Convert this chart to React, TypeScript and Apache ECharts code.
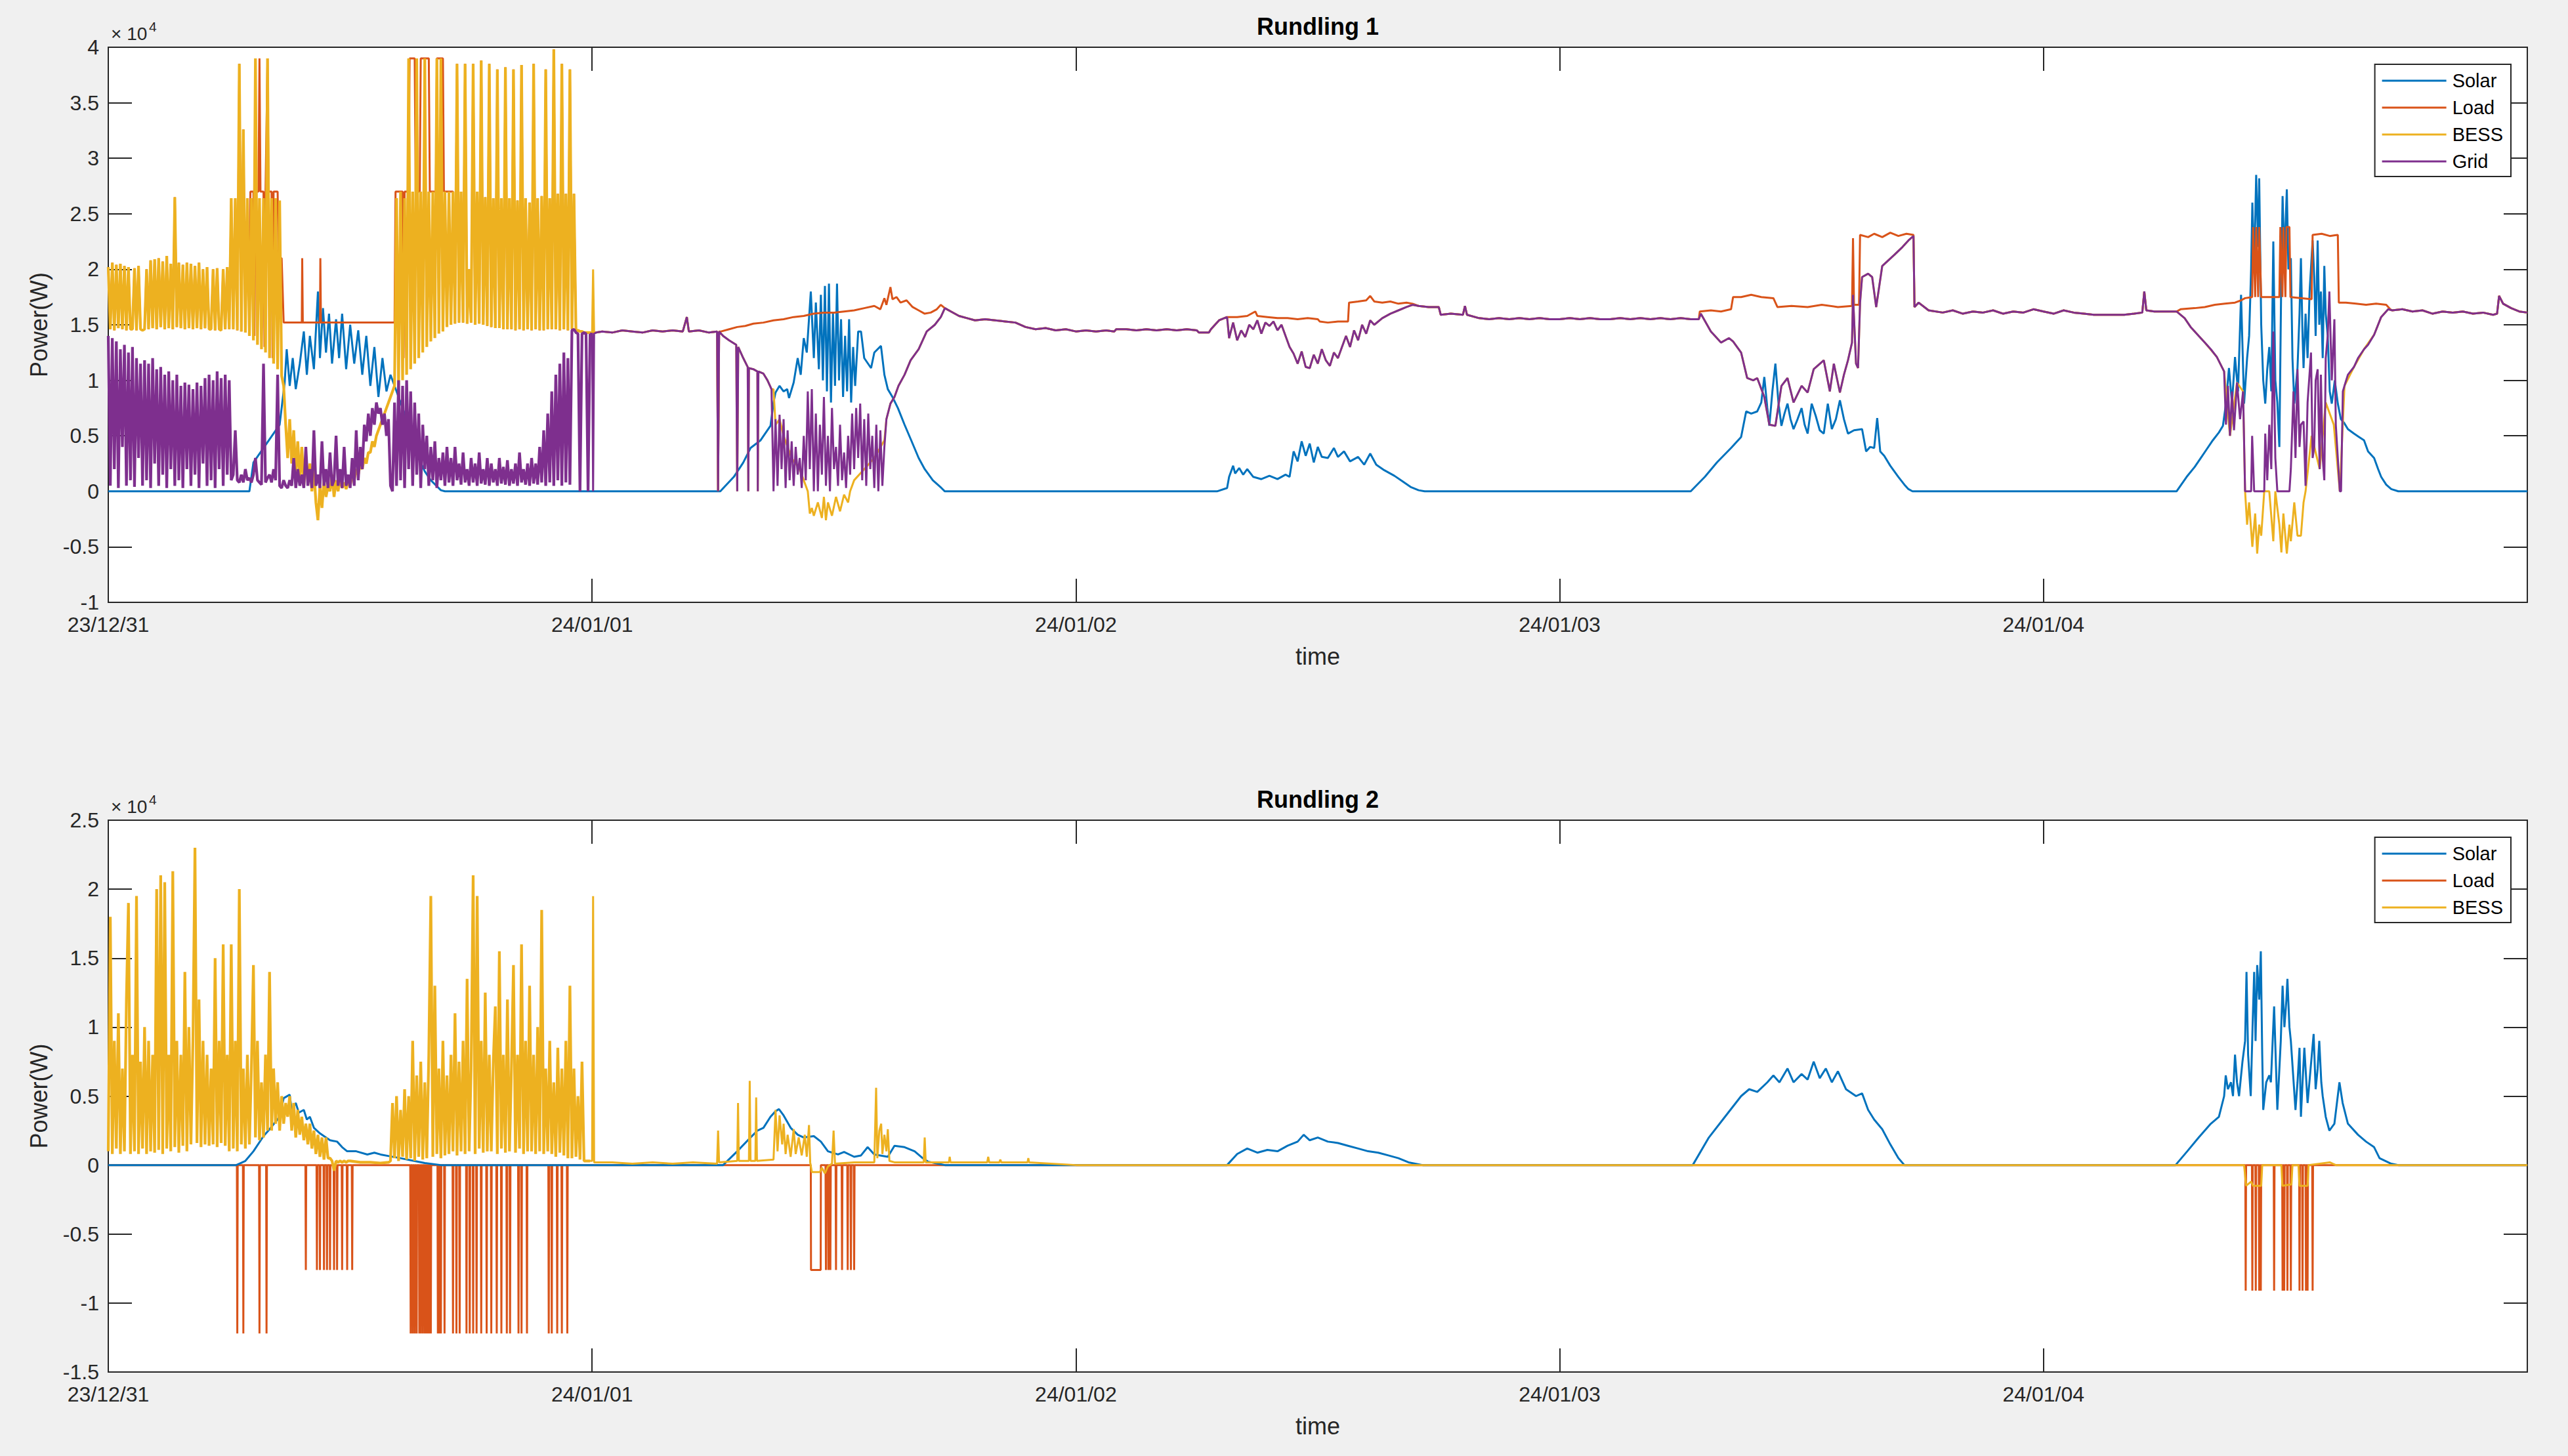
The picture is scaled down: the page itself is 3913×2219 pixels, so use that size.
import * as echarts from "echarts";
import { useEffect, useRef } from "react";

type Pt = [number, number];

// x: hours since 23/12/31 00:00, y: kW (axes print y / 10 with a x10^4 W multiplier)
const xTickLabels = ["23/12/31", "24/01/01", "24/01/02", "24/01/03", "24/01/04"];
const SAMPLE_STEP = 0.1; // hours between rows in the dense logger blocks

const COLORS = { solar: "#0072BD", load: "#D95319", bess: "#EDB120", grid: "#7E2F8E" };
const FONT = '"Liberation Sans", Arial, Helvetica, sans-serif';
const AXIS = "#262626";

// ---------- Rundling 1 ----------
// 6-minute rows from 00:00 to 23:54 on 23/12/31
const r1BessNight0 = [
  20.2, 14.6, 20.6, 14.5, 20.4, 14.7, 20.5, 14.6, 20.3, 14.5,
  20.2, 14.6, 14.6, 20.1, 14.5, 20.3, 14.6, 14.5, 14.6, 20.0,
  14.6, 20.8, 14.7, 20.9, 14.6, 21.0, 14.8, 20.7, 14.6, 21.2,
  14.7, 20.5, 14.6, 26.5, 14.8, 20.6, 14.7, 20.4, 14.6, 20.6,
  14.7, 20.5, 14.6, 20.3, 14.7, 20.6, 14.6, 20.0, 14.7, 20.2,
  14.6, 14.6, 20.0, 14.5, 20.1, 14.6, 14.5, 20.0, 14.6, 20.2,
  14.6, 26.4, 14.6, 26.4, 14.5, 38.5, 14.4, 32.6, 14.3, 26.4,
  14.0, 26.4, 13.6, 39.0, 13.2, 26.4, 12.8, 26.4, 12.5, 39.0,
  12.0, 26.4, 11.5, 26.4, 11.0, 26.2, 10.4, 9.5, 6.0, 3.0,
  6.5, 2.5, 5.5, 1.5, 4.5, 1.0, 4.0, 0.5, 3.0, 1.0,
  2.5, 0.0, 2.0, -1.0, -2.6, 0.5, -1.5, 1.0, -0.5, 0.5,
  0.0, 1.5, -0.5, 1.0, 0.0, 1.2, 0.3, 0.8, 0.2, 1.0,
  0.5, 1.5, 1.0, 2.0, 1.5, 2.5, 2.0, 3.0, 2.5, 3.5,
  3.5, 4.5, 4.0, 5.0, 5.5, 6.0, 6.5, 7.0, 7.5, 8.0,
  8.5, 9.0, 9.5, 26.4, 9.6, 27.0, 10.0, 26.4, 10.5, 39.0,
  11.0, 27.0, 11.5, 39.0, 12.0, 27.0, 12.5, 39.0, 13.0, 27.0,
  13.5, 27.0, 13.8, 39.0, 14.2, 39.0, 14.4, 27.0, 14.8, 27.0,
  15.0, 27.0, 15.1, 38.5, 15.2, 27.0, 15.2, 38.5, 15.1, 20.0,
  15.2, 38.5, 15.0, 27.0, 15.1, 38.8, 15.0, 26.5, 14.9, 38.5,
  14.8, 26.4, 14.7, 38.0, 14.7, 26.4, 14.6, 38.2, 14.6, 26.4,
  14.6, 38.0, 14.5, 26.2, 14.6, 38.4, 14.5, 26.4, 14.6, 26.0,
  14.5, 38.5, 14.6, 26.4, 14.5, 26.6, 14.5, 38.0, 14.6, 26.4,
  14.6, 39.8, 14.6, 26.8, 14.5, 38.5, 14.6, 26.8, 14.5, 38.0,
  14.6, 26.8, 14.4, 14.5, 14.4, 14.4, 14.3, 14.3, 14.3, 14.3,
];

const r1GridNight0 = [
  14.0, 0.5, 13.8, 2.0, 13.5, 0.3, 12.8, 4.0, 13.2, 0.5,
  12.5, 1.0, 13.0, 0.4, 12.0, 3.0, 11.5, 0.5, 11.8, 1.0,
  11.5, 0.3, 12.0, 2.5, 11.0, 0.5, 11.2, 1.5, 10.5, 0.3,
  10.8, 2.0, 10.0, 0.5, 10.5, 1.0, 9.5, 0.3, 9.8, 2.0,
  9.6, 0.5, 9.2, 1.5, 9.8, 0.3, 9.5, 2.5, 10.2, 0.5,
  10.5, 1.0, 10.0, 0.3, 10.8, 2.0, 10.2, 0.5, 10.5, 1.5,
  10.0, 1.0, 1.5, 5.5, 1.0, 0.8, 1.5, 0.8, 2.0, 1.0,
  1.2, 0.8, 1.5, 3.0, 1.0, 0.8, 0.6, 11.5, 0.8, 1.2,
  1.5, 0.8, 2.0, 1.0, 10.5, 0.5, 0.3, 1.0, 0.5, 0.3,
  1.0, 0.5, 3.0, 0.3, 2.0, 0.5, 1.5, 0.3, 4.0, 0.5,
  2.0, 0.3, 5.5, 0.5, 1.5, 0.3, 4.5, 0.5, 2.0, 0.3,
  3.5, 0.5, 1.0, 5.0, 0.5, 2.0, 0.3, 4.0, 0.5, 1.5,
  0.3, 3.0, 0.5, 5.5, 1.0, 4.0, 2.0, 6.0, 4.5, 7.0,
  5.0, 7.5, 6.0, 8.0, 7.0, 7.5, 6.0, 7.0, 5.0, 6.5,
  0.5, 0.0, 8.0, 0.5, 10.0, 1.0, 9.5, 0.3, 10.0, 2.0,
  9.0, 0.5, 8.0, 1.5, 7.0, 0.3, 6.0, 2.0, 5.0, 0.5,
  4.0, 1.0, 4.5, 0.3, 3.0, 1.0, 3.5, 0.5, 4.0, 0.8,
  3.0, 0.5, 4.0, 1.0, 2.5, 0.6, 3.5, 0.8, 2.0, 0.5,
  3.0, 0.8, 2.5, 0.5, 3.5, 0.7, 2.0, 0.6, 3.0, 0.5,
  2.5, 0.8, 2.0, 0.5, 3.0, 0.7, 2.2, 0.6, 2.8, 0.5,
  2.0, 0.7, 2.5, 0.5, 3.5, 0.8, 2.0, 0.6, 2.5, 0.5,
  3.0, 0.7, 2.5, 0.6, 4.0, 0.8, 5.5, 0.5, 7.0, 0.8,
  9.0, 0.5, 10.5, 1.0, 11.5, 0.5, 12.5, 0.8, 12.0, 0.6,
  14.5, 14.6, 14.3, 14.2, 0.0, 14.2, 14.3, 14.2, 0.0, 14.2,
];

// load only departs from the BESS reading between 06:48 and 17:00 on day 0
const r1LoadDay0Own: Pt[] = [
  [6.8, 14.6], [6.85, 20.5], [7.0, 20.5], [7.05, 27.0], [7.2, 27.0], [7.25, 14.0], [7.3, 27.0],
  [7.45, 27.0], [7.5, 39.0], [7.55, 27.0], [7.7, 27.0], [7.75, 13.0], [7.8, 27.0], [7.9, 39.0], [7.95, 27.0],
  [8.1, 27.0], [8.15, 12.0], [8.2, 27.0], [8.4, 27.0], [8.45, 21.0], [8.6, 21.0], [8.7, 15.2], [9.6, 15.2],
  [9.62, 21.0], [9.65, 15.2], [10.5, 15.2], [10.52, 21.0], [10.55, 15.2], [14.2, 15.2], [14.25, 27.0],
  [14.6, 27.0], [14.65, 12.0], [14.7, 27.0], [14.9, 27.0], [14.95, 39.0], [15.2, 39.0], [15.25, 27.0],
  [15.45, 27.0], [15.5, 39.0], [15.9, 39.0], [15.95, 27.0], [16.25, 27.0], [16.3, 39.0], [16.6, 39.0],
  [16.65, 27.0], [17.0, 27.0],
];

const r1SolarDay0: Pt[] = [
  [0, 0], [7.0, 0], [7.2, 2.6], [7.85, 4.3], [8.5, 6.0], [8.75, 9.8], [8.85, 12.8], [9.0, 9.5], [9.15, 12.0],
  [9.3, 9.2], [9.5, 11.5], [9.7, 14.4], [9.85, 10.5], [10.0, 14.0], [10.2, 11.0], [10.4, 18.0], [10.5, 12.0],
  [10.65, 16.5], [10.8, 12.5], [10.95, 16.0], [11.1, 11.5], [11.3, 15.5], [11.45, 12.0], [11.6, 16.0],
  [11.8, 11.0], [12.0, 15.0], [12.2, 11.5], [12.4, 14.5], [12.6, 10.5], [12.8, 14.0], [13.0, 9.5],
  [13.2, 13.0], [13.4, 8.5], [13.6, 12.0], [13.8, 9.0], [14.0, 10.5], [14.2, 9.5], [14.5, 8.0], [14.8, 6.5],
  [15.1, 4.5], [15.4, 3.0], [15.7, 1.8], [16.0, 1.0], [16.5, 0.1], [16.7, 0],
];

const r1GridMidnight: Pt[] = [[24.0, 14.2], [24.05, 0], [24.1, 14.2]];
const r1BessMidnight: Pt[] = [[24.0, 14.3], [24.05, 20.0], [24.1, 14.3]];

// night stretches where load, BESS and grid read the same
const r1Night1: Pt[] = [
  [24.2, 14.3], [24.5, 14.4], [25, 14.3], [25.5, 14.5], [26, 14.4], [26.5, 14.3], [27, 14.5], [27.5, 14.4],
  [28, 14.5], [28.5, 14.4], [28.7, 15.7], [28.8, 14.4], [29.3, 14.5], [29.8, 14.3], [30.2, 14.4],
  [30.25, 0], [30.3, 14.4],
];
const r1GridMorning1: Pt[] = [
  [30.5, 14.0], [30.8, 13.6], [31.15, 13.2], [31.2, 0], [31.25, 13.0], [31.5, 12.0], [31.72, 11.2],
  [31.75, 0], [31.78, 11.1], [32.0, 11.0], [32.2, 10.8], [32.22, 0], [32.25, 10.8], [32.5, 10.6],
  [32.7, 10.0], [32.9, 9.2],
];
const r1GridSolar1: Pt[] = [
  [33.0, 0], [33.1, 6.5], [33.2, 0.5], [33.3, 6.9], [33.4, 2.0], [33.5, 6.5], [33.6, 0.3], [33.7, 5.5],
  [33.8, 1.0], [33.9, 4.5], [34.0, 0.5], [34.1, 4.0], [34.2, 1.5], [34.3, 3.0], [34.4, 0.3], [34.5, 5.0],
  [34.6, 1.0], [34.7, 9.0], [34.8, 2.0], [34.9, 9.2], [35.0, 0], [35.1, 7.0], [35.2, 0], [35.3, 6.0],
  [35.4, 1.5], [35.5, 8.5], [35.6, 0.5], [35.7, 5.0], [35.8, 0], [35.9, 7.5], [36.0, 2.0], [36.1, 4.0],
  [36.2, 0.5], [36.3, 6.0], [36.4, 1.0], [36.5, 3.5], [36.6, 0.3], [36.7, 5.0], [36.8, 1.5], [36.9, 7.0],
  [37.0, 2.0], [37.1, 7.5], [37.2, 3.0], [37.3, 7.9], [37.4, 1.0], [37.5, 6.5], [37.6, 0.5], [37.7, 7.0],
  [37.8, 2.0], [37.9, 5.0], [38.0, 0.3], [38.1, 6.0], [38.2, 0], [38.3, 5.5], [38.4, 0.5], [38.5, 4.0],
];
const r1BessSolar1: Pt[] = [
  [33.0, 9.2], [33.1, 6.0], [33.3, 6.5], [33.5, 5.0], [33.7, 4.0], [33.9, 3.0], [34.1, 2.5], [34.3, 2.0],
  [34.5, 1.0], [34.7, 0.0], [34.8, -2.0], [34.9, -1.5], [35.0, -2.2], [35.2, -1.0], [35.4, -2.4],
  [35.5, -0.5], [35.6, -2.6], [35.7, -1.0], [35.9, -2.2], [36.1, -0.5], [36.3, -1.8], [36.5, -0.3],
  [36.7, -1.0], [36.8, 0], [37.0, 1.0], [37.5, 2.0], [38.0, 3.0], [38.5, 4.6],
];
const r1GridRise1: Pt[] = [
  [38.6, 6.5], [38.8, 7.9], [39.0, 8.5], [39.2, 9.5], [39.5, 10.5], [39.8, 11.8], [40.2, 12.8],
  [40.6, 14.4], [41.0, 15.0], [41.3, 15.7],
];
const r1LoadMorning1: Pt[] = [
  [30.4, 14.4], [30.8, 14.6], [31.2, 14.8], [31.6, 14.9], [32, 15.1], [32.5, 15.2], [33, 15.4], [33.5, 15.5],
  [34, 15.7], [34.5, 15.8], [35, 16.0], [35.5, 16.1], [36, 16.1], [36.5, 16.2], [37, 16.3], [37.5, 16.5],
  [38, 16.7], [38.3, 16.4], [38.5, 17.4], [38.6, 16.8], [38.8, 18.4], [38.9, 17.3], [39.1, 17.5],
  [39.3, 17.0], [39.6, 17.2], [39.9, 16.6], [40.2, 16.3], [40.5, 16.0], [40.8, 16.1], [41.1, 16.4],
  [41.3, 16.8],
];
const r1SolarDay1: Pt[] = [
  [30.36, 0], [31.03, 1.3], [31.5, 2.6], [31.86, 3.9], [32.36, 4.6], [32.85, 5.9], [33.0, 8.0], [33.1, 8.9],
  [33.3, 9.5], [33.5, 9.0], [33.68, 9.2], [33.77, 8.4], [34.0, 9.8], [34.2, 12.0], [34.35, 10.5],
  [34.5, 13.8], [34.65, 12.5], [34.85, 18.0], [35.0, 12.0], [35.1, 17.0], [35.25, 11.0], [35.35, 17.7],
  [35.45, 10.0], [35.55, 18.5], [35.65, 9.0], [35.75, 18.7], [35.85, 8.0], [35.95, 16.0], [36.05, 9.5],
  [36.15, 18.7], [36.25, 10.0], [36.35, 15.5], [36.45, 8.5], [36.55, 14.0], [36.65, 9.0], [36.75, 15.5],
  [36.85, 8.0], [36.95, 13.0], [37.05, 9.5], [37.2, 14.4], [37.34, 14.4], [37.5, 12.0], [37.84, 11.1],
  [38.0, 12.5], [38.33, 13.1], [38.5, 10.5], [38.67, 9.2], [38.9, 8.5], [39.17, 7.5], [39.5, 6.0],
  [39.83, 4.6], [40.2, 3.0], [40.5, 2.0], [40.9, 1.0], [41.33, 0.3], [41.5, 0],
];

const r1Night2: Pt[] = [
  [41.5, 16.5], [41.8, 16.2], [42.2, 15.8], [42.6, 15.6], [43, 15.4], [43.5, 15.5], [44, 15.4], [44.5, 15.3],
  [45, 15.2], [45.5, 14.8], [46, 14.6], [46.5, 14.7], [47, 14.5], [47.5, 14.6], [48, 14.4], [48.5, 14.5],
  [49, 14.4], [49.5, 14.5], [49.9, 14.4], [50, 14.6], [50.5, 14.6], [51, 14.5], [51.5, 14.6], [52, 14.5],
  [52.5, 14.6], [53, 14.5], [53.5, 14.6], [54.0, 14.5], [54.1, 14.3], [54.6, 14.3], [54.7, 14.6],
  [55.1, 15.4], [55.5, 15.7],
];
const r1GridDay2: Pt[] = [
  [55.6, 13.8], [55.8, 15.2], [56.0, 13.6], [56.2, 14.5], [56.4, 13.9], [56.6, 15.0], [56.8, 14.6],
  [57.0, 15.4], [57.2, 14.2], [57.4, 15.2], [57.6, 14.9], [57.8, 15.3], [58.0, 14.5], [58.2, 15.0],
  [58.4, 14.0], [58.6, 13.0], [58.8, 12.4], [59.0, 11.5], [59.2, 12.6], [59.4, 11.2], [59.6, 11.1],
  [59.8, 12.3], [60.0, 11.5], [60.2, 12.8], [60.4, 11.8], [60.6, 11.3], [60.8, 12.5], [61.0, 12.0],
  [61.2, 13.0], [61.4, 14.0], [61.6, 13.0], [61.8, 14.5], [62.0, 13.6], [62.2, 15.0], [62.4, 14.2],
  [62.6, 15.4], [62.8, 15.0], [63.2, 15.6], [63.6, 16.0], [64.0, 16.3], [64.4, 16.6], [64.7, 16.8],
];
const r1LoadDay2: Pt[] = [
  [55.6, 15.7], [56, 15.7], [56.5, 15.8], [56.9, 16.2], [57.0, 15.8], [57.5, 15.7], [58, 15.6], [58.5, 15.6],
  [59, 15.5], [59.5, 15.6], [60.0, 15.5], [60.1, 15.3], [60.5, 15.2], [61, 15.3], [61.5, 15.3],
  [61.55, 17.0], [62, 17.1], [62.4, 17.2], [62.6, 17.6], [62.8, 17.1], [63.2, 17.0], [63.6, 17.1],
  [64.0, 16.9], [64.4, 17.0], [64.7, 16.9],
];
const r1SolarDay2: Pt[] = [
  [55.0, 0], [55.5, 0.3], [55.6, 1.3], [55.8, 2.3], [55.9, 1.6], [56.1, 2.1], [56.3, 1.5], [56.5, 2.0],
  [56.8, 1.3], [57.2, 1.1], [57.6, 1.4], [58.0, 1.1], [58.4, 1.5], [58.6, 1.3], [58.8, 3.6], [59.0, 2.7],
  [59.2, 4.5], [59.4, 3.2], [59.6, 4.3], [59.8, 2.6], [60.0, 4.0], [60.2, 3.1], [60.5, 3.0], [60.8, 3.9],
  [61.0, 3.1], [61.3, 3.6], [61.6, 2.7], [62.0, 3.1], [62.3, 2.4], [62.6, 3.4], [62.9, 2.4], [63.3, 1.9],
  [63.8, 1.4], [64.2, 0.9], [64.6, 0.4], [65.0, 0.1], [65.3, 0],
];

const r1Night3: Pt[] = [
  [65.0, 16.7], [65.5, 16.6], [66.0, 16.6], [66.1, 15.9], [66.6, 16.0], [67.2, 15.9], [67.3, 16.7],
  [67.4, 15.9], [68, 15.6], [68.5, 15.5], [69, 15.6], [69.5, 15.5], [70, 15.6], [70.5, 15.5], [71, 15.6],
  [71.5, 15.5], [72, 15.5], [72.5, 15.6], [73, 15.5], [73.5, 15.6], [74, 15.5], [74.5, 15.5], [75, 15.6],
  [75.5, 15.5], [76, 15.6], [76.5, 15.5], [77, 15.6], [77.5, 15.5], [78, 15.6], [78.5, 15.5], [78.9, 15.5],
];
const r1LoadDay3: Pt[] = [
  [78.95, 16.2], [79.5, 16.3], [80.0, 16.2], [80.5, 16.4], [80.6, 17.5], [81, 17.5], [81.5, 17.7],
  [82, 17.5], [82.6, 17.4], [82.8, 16.6], [83.5, 16.7], [84.3, 16.6], [85, 16.8], [85.8, 16.6],
  [86.5, 16.7], [86.55, 22.8], [86.6, 16.8], [86.85, 16.8], [86.9, 23.1], [87.3, 22.9], [87.6, 23.2],
  [88.0, 22.9], [88.4, 23.3], [88.8, 23.0], [89.2, 23.2], [89.55, 23.1],
];
const r1GridDay3: Pt[] = [
  [79.0, 16.0], [79.5, 14.4], [80, 13.4], [80.4, 13.8], [80.6, 13.5], [81.0, 12.5], [81.3, 10.2],
  [81.6, 10.0], [81.8, 10.2], [82.15, 8.5], [82.4, 6.0], [82.7, 5.9], [83.0, 9.5], [83.3, 10.2],
  [83.6, 8.0], [84.0, 9.5], [84.3, 8.9], [84.6, 11.0], [85.1, 11.8], [85.4, 9.0], [85.6, 11.5],
  [85.9, 8.9], [86.1, 10.5], [86.3, 11.8], [86.5, 13.4], [86.55, 17.7], [86.7, 11.5], [86.8, 11.1],
  [86.9, 17.0], [87.0, 19.3], [87.3, 19.6], [87.5, 19.3], [87.7, 16.6], [88.0, 20.3], [88.3, 20.8],
  [88.6, 21.3], [89.0, 22.0], [89.3, 22.6], [89.55, 23.0],
];
const r1SolarDay3: Pt[] = [
  [78.5, 0], [79.2, 1.3], [79.8, 2.6], [80.5, 3.9], [81.0, 4.9], [81.25, 7.2], [81.5, 7.0], [81.8, 7.2],
  [82.0, 8.0], [82.15, 10.3], [82.3, 7.5], [82.4, 5.9], [82.55, 9.0], [82.7, 11.5], [82.85, 8.0],
  [83.0, 5.9], [83.15, 7.0], [83.3, 7.9], [83.45, 6.5], [83.6, 5.6], [83.8, 6.5], [84.0, 7.5],
  [84.15, 6.0], [84.3, 5.2], [84.5, 7.9], [84.7, 6.8], [84.9, 5.5], [85.1, 5.2], [85.3, 7.9], [85.5, 5.6],
  [85.7, 6.5], [85.9, 8.2], [86.1, 6.5], [86.3, 5.2], [86.6, 5.5], [87.0, 5.6], [87.2, 3.6], [87.4, 4.0],
  [87.6, 3.9], [87.75, 6.6], [87.9, 3.6], [88.1, 3.2], [88.4, 2.3], [88.8, 1.3], [89.1, 0.6],
  [89.3, 0.2], [89.5, 0],
];

const r1Night4: Pt[] = [
  [89.6, 16.6], [89.8, 17.0], [90.3, 16.3], [91, 16.1], [91.5, 16.3], [92, 16.0], [92.5, 16.2], [93, 16.1],
  [93.5, 16.3], [94, 16.0], [94.5, 16.2], [95, 16.1], [95.5, 16.4], [96, 16.2], [96.5, 16.0], [97, 16.3],
  [97.5, 16.1], [98, 16.0], [98.5, 15.9], [99, 15.9], [99.5, 15.9], [100, 15.9], [100.5, 16.0],
  [100.9, 16.1], [101.0, 18.0], [101.1, 16.3], [101.5, 16.2], [102, 16.2], [102.6, 16.2],
];
const r1LoadDay4: Pt[] = [
  [102.8, 16.4], [103.5, 16.5], [104, 16.6], [104.5, 16.8], [105, 16.9], [105.5, 17.0], [105.8, 17.2],
  [106.0, 17.4], [106.35, 17.5], [106.4, 23.8], [106.5, 17.5], [106.55, 23.8], [106.65, 17.5],
  [106.7, 23.8], [106.8, 17.5], [107.7, 17.5], [107.75, 23.8], [107.85, 17.5], [107.9, 23.8],
  [108.0, 17.5], [108.05, 23.8], [108.2, 23.8], [108.25, 17.5], [109.3, 17.3], [109.35, 23.1],
  [109.8, 23.2], [110.2, 23.0], [110.6, 23.1], [110.65, 17.0], [111, 17.0], [111.5, 16.9], [112, 16.8],
  [112.5, 16.9], [113, 16.8], [113.2, 16.4],
];
const r1GridDay4: Pt[] = [
  [103.0, 15.6], [103.3, 14.8], [103.7, 14.0], [104.0, 13.4], [104.3, 12.8], [104.6, 12.1], [104.96, 10.8],
  [105.05, 6.0], [105.15, 9.5], [105.25, 5.0], [105.35, 9.0], [105.45, 5.5], [105.6, 9.8], [105.75, 6.5],
  [105.9, 9.0], [106.0, 0], [106.3, 0], [106.35, 5.0], [106.45, 0], [106.95, 0], [107.0, 5.2],
  [107.1, 1.0], [107.2, 6.0], [107.3, 2.0], [107.4, 14.4], [107.5, 3.0], [107.6, 0], [108.2, 0],
  [108.27, 2.0], [108.4, 9.0], [108.5, 3.0], [108.6, 11.0], [108.7, 4.0], [108.77, 6.0], [108.9, 6.3],
  [109.0, 0.5], [109.1, 8.0], [109.27, 12.5], [109.35, 3.0], [109.43, 4.0], [109.5, 10.0], [109.6, 11.0],
  [109.7, 2.0], [109.76, 10.5], [109.85, 3.0], [109.93, 1.0], [110.0, 12.0], [110.1, 14.0], [110.18, 18.0],
  [110.3, 10.0], [110.43, 15.5], [110.5, 6.0], [110.6, 3.0], [110.7, 0], [110.76, 0], [110.85, 9.0],
  [110.93, 9.5], [111.1, 10.5], [111.4, 11.2], [111.6, 12.0], [111.9, 12.8], [112.1, 13.2], [112.4, 14.1],
  [112.75, 15.7], [113.1, 16.4],
];
const r1BessDay4: Pt[] = [
  [103.0, 15.6], [103.3, 14.8], [104.0, 13.4], [104.6, 12.1], [104.96, 10.8], [105.25, 5.0], [105.6, 9.8],
  [105.9, 9.0], [106.0, 0], [106.1, -3.0], [106.2, -1.0], [106.36, -5.0], [106.5, -2.0], [106.6, -5.6],
  [106.7, -3.0], [106.8, -4.0], [106.95, 0], [107.2, 0], [107.4, -4.5], [107.5, 0], [107.7, -3.0],
  [107.8, -5.5], [107.9, -2.0], [108.07, -5.6], [108.2, -3.0], [108.27, -4.5], [108.44, -1.0],
  [108.6, -4.0], [108.77, -4.0], [108.9, -1.0], [109.0, 0], [109.3, 5.0], [109.7, 2.0], [110.0, 8.0],
  [110.4, 6.0], [110.7, 0], [110.93, 9.5], [111.4, 11.2], [111.9, 12.8], [112.4, 14.1], [112.75, 15.7],
  [113.1, 16.4],
];
const r1SolarDay4: Pt[] = [
  [102.6, 0], [103.1, 1.3], [103.5, 2.2], [103.8, 3.0], [104.1, 3.8], [104.4, 4.6], [104.7, 5.3],
  [104.9, 5.9], [105.05, 7.9], [105.2, 11.1], [105.35, 7.9], [105.5, 12.1], [105.65, 9.0], [105.8, 17.7],
  [105.95, 7.9], [106.1, 12.0], [106.2, 14.0], [106.3, 20.0], [106.36, 26.0], [106.45, 20.0],
  [106.55, 28.5], [106.65, 22.0], [106.7, 28.2], [106.8, 15.0], [106.9, 10.0], [107.0, 7.9], [107.1, 11.0],
  [107.2, 13.0], [107.3, 9.0], [107.4, 22.5], [107.5, 10.0], [107.6, 8.0], [107.7, 4.0], [107.8, 20.0],
  [107.86, 26.6], [107.95, 21.0], [108.07, 27.2], [108.15, 20.0], [108.27, 21.0], [108.35, 12.0],
  [108.44, 7.9], [108.6, 11.1], [108.7, 16.0], [108.77, 21.0], [108.85, 14.0], [108.9, 11.1], [109.0, 16.0],
  [109.1, 12.0], [109.2, 18.0], [109.35, 22.6], [109.43, 19.3], [109.5, 14.0], [109.6, 22.6], [109.68, 15.0],
  [109.76, 18.0], [109.85, 12.0], [109.93, 20.3], [110.0, 16.0], [110.1, 14.0], [110.2, 9.0], [110.3, 7.9],
  [110.45, 10.0], [110.6, 7.9], [110.75, 6.5], [110.9, 6.2], [111.1, 5.6], [111.4, 5.2], [111.65, 4.9],
  [111.9, 4.6], [112.1, 3.6], [112.4, 3.0], [112.6, 2.0], [112.75, 1.3], [113.0, 0.6], [113.25, 0.2],
  [113.6, 0],
];
const r1Night5: Pt[] = [
  [113.3, 16.3], [113.8, 16.4], [114.3, 16.2], [114.8, 16.3], [115.3, 16.0], [115.8, 16.2], [116.3, 16.1],
  [116.8, 16.2], [117.3, 16.0], [117.8, 16.1], [118.3, 15.9], [118.5, 16.0], [118.6, 17.6], [118.8, 16.9],
  [119.2, 16.5], [119.6, 16.2], [120, 16.1],
];

// ---------- Rundling 2 ----------
// 6-minute rows 00:00-11:54 and 14:00-23:54 on 23/12/31
const r2BessNight0 = [
  1.0, 18.0, 0.8, 9.0, 1.2, 11.0, 0.8, 7.0, 1.0, 12.0,
  19.0, 0.8, 8.0, 1.0, 19.5, 0.8, 7.5, 1.2, 10.0, 0.8,
  9.0, 1.0, 8.0, 0.9, 20.0, 1.1, 21.0, 0.8, 20.5, 1.2,
  8.0, 1.0, 21.3, 1.3, 9.0, 0.9, 8.0, 1.4, 14.0, 1.0,
  10.0, 1.5, 9.0, 23.0, 1.6, 12.0, 1.3, 9.0, 1.5, 8.0,
  1.4, 7.0, 1.5, 15.0, 1.3, 9.0, 1.6, 16.0, 1.4, 8.0,
  1.0, 16.0, 1.2, 9.0, 1.0, 20.0, 1.5, 7.0, 1.2, 8.0,
  1.5, 7.0, 14.5, 2.0, 9.0, 1.8, 6.0, 2.0, 8.0, 2.5,
  14.0, 2.5, 7.0, 3.0, 6.0, 2.5, 5.0, 3.0, 4.5, 3.5,
  5.0, 2.5, 4.5, 2.0, 4.0, 2.2, 3.5, 1.8, 3.0, 1.5,
  3.0, 1.2, 2.5, 0.8, 2.2, 0.6, 2.0, 0.4, 2.0, 0.5,
  0.5, 0.3, -0.4, 0.3, 0.2, 0.3, 0.2, 0.3, 0.2, 0.3,
];
const r2BessQuiet0: Pt[] = [[12.0, 0.3], [12.5, 0.2], [13.0, 0.2], [13.5, 0.15], [13.9, 0.2]];
const r2BessEve0 = [
  0.3, 4.5, 0.5, 5.0, 0.3, 4.0, 0.6, 5.5, 0.4, 5.0,
  0.5, 9.0, 0.3, 6.5, 0.6, 7.5, 0.4, 6.0, 0.5, 8.0,
  19.5, 0.6, 13.0, 0.8, 7.0, 0.5, 9.0, 0.7, 6.5, 0.8,
  8.0, 1.0, 11.0, 0.7, 7.5, 1.0, 9.0, 0.8, 13.5, 1.0,
  7.0, 21.0, 0.8, 19.5, 1.2, 9.0, 0.9, 12.5, 1.0, 8.0,
  1.0, 7.5, 11.5, 0.8, 15.5, 1.2, 8.0, 0.9, 12.0, 1.0,
  7.0, 14.5, 0.9, 8.0, 1.2, 16.0, 0.8, 9.0, 1.0, 13.0,
  1.0, 8.0, 0.8, 10.0, 1.0, 18.5, 0.8, 7.0, 1.0, 9.0,
  0.8, 6.0, 0.6, 8.5, 0.9, 7.0, 0.7, 9.0, 0.5, 13.0,
  0.5, 7.0, 0.6, 5.0, 0.4, 7.5, 0.3, 0.3, 0.3, 0.3,
];
const r2BessRest: Pt[] = [
  [24.0, 0.3], [24.05, 19.5], [24.1, 0.2], [25, 0.2], [26, 0.1], [27, 0.2], [28, 0.1], [29, 0.2],
  [30.2, 0.1], [30.25, 2.5], [30.3, 0.2], [31.2, 0.3], [31.24, 4.5], [31.28, 0.3], [31.78, 0.3],
  [31.82, 6.1], [31.86, 0.3], [32.1, 0.3], [32.14, 4.9], [32.18, 0.3], [33.0, 0.4], [33.1, 4.0],
  [33.2, 1.0], [33.3, 3.6], [33.43, 1.5], [33.5, 3.0], [33.6, 0.8], [33.7, 2.2], [33.85, 0.6], [34.0, 2.6],
  [34.1, 0.8], [34.25, 2.0], [34.4, 0.7], [34.55, 2.2], [34.65, 0.6], [34.76, 2.9], [34.82, 0.2],
  [34.9, -0.5], [35.3, -0.5], [35.4, -0.2], [35.55, -0.6], [35.7, -0.1], [35.9, 0.1], [35.98, 2.5],
  [36.05, 0.1], [37.0, 0.2], [38.0, 0.2], [38.09, 5.6], [38.15, 0.5], [38.25, 2.5], [38.34, 3.0],
  [38.4, 0.8], [38.5, 2.2], [38.6, 1.0], [38.67, 2.6], [38.75, 0.3], [39.0, 0.2], [40.45, 0.2],
  [40.5, 2.0], [40.55, 0.2], [41.7, 0.2], [41.74, 0.6], [41.78, 0.2], [43.6, 0.2], [43.65, 0.6],
  [43.7, 0.2], [44.2, 0.2], [44.25, 0.4], [44.3, 0.2], [45.6, 0.2], [45.64, 0.5], [45.68, 0.2],
  [48, 0], [55, 0], [60, 0], [66, 0], [72, 0], [80, 0], [86, 0], [90, 0], [96, 0],
  [102.5, 0], [105.95, 0], [106.05, -1.5], [106.3, -1.2], [106.4, -1.5], [106.8, -1.5],
  [106.85, 0], [107.8, 0], [107.85, -1.5], [108.3, -1.4], [108.35, 0], [108.65, 0],
  [108.7, -1.5], [109.1, -1.5], [109.15, 0], [110.2, 0.2], [110.5, 0], [120, 0],
];

// one-row load dips of Rundling 2 (hour, kW)
const r2LoadDipsDay0: Pt[] = [
  [6.4, -12.2], [6.7, -12.2], [7.5, -12.2], [7.85, -12.2], [9.8, -7.6], [10.35, -7.6], [10.5, -7.6],
  [10.7, -7.6], [10.85, -7.6], [11.0, -7.6], [11.2, -7.6], [11.35, -7.6], [11.6, -7.6], [11.85, -7.6],
  [12.1, -7.6], [15.0, -12.2], [15.1, -12.2], [15.2, -12.2], [15.3, -12.2], [15.43, -12.2], [15.5, -12.2],
  [15.6, -12.2], [15.7, -12.2], [15.77, -12.2], [15.85, -12.2], [15.93, -12.2], [16.0, -12.2],
  [16.35, -12.2], [16.42, -12.2], [16.5, -12.2], [16.68, -12.2], [17.1, -12.2], [17.27, -12.2],
  [17.43, -12.2], [17.77, -12.2], [17.93, -12.2], [18.1, -12.2], [18.27, -12.2], [18.5, -12.2],
  [18.77, -12.2], [19.0, -12.2], [19.27, -12.2], [19.5, -12.2], [19.77, -12.2], [19.93, -12.2],
  [20.35, -12.2], [20.5, -12.2], [20.77, -12.2], [21.85, -12.2], [22.0, -12.2], [22.27, -12.2],
  [22.5, -12.2], [22.77, -12.2],
];
const r2LoadBlockDay1: Pt[] = [[34.85, 0], [34.86, -7.6], [35.34, -7.6], [35.35, 0]];
const r2LoadDipsDay1: Pt[] = [
  [35.6, -7.6], [35.72, -7.6], [35.82, -7.6], [36.1, -7.6], [36.4, -7.6], [36.68, -7.6], [36.84, -7.6],
  [37.0, -7.6],
];
const r2LoadDipsDay4: Pt[] = [
  [106.03, -9.1], [106.36, -9.1], [106.53, -9.1], [106.7, -9.1], [106.78, -9.1], [107.44, -9.1],
  [107.86, -9.1], [107.94, -9.1], [108.1, -9.1], [108.27, -9.1], [108.7, -9.1], [108.85, -9.1],
  [109.02, -9.1], [109.1, -9.1], [109.35, -9.1],
];

const r2SolarDay0: Pt[] = [
  [0, 0], [6.35, 0], [6.8, 0.3], [7.2, 1.0], [7.7, 2.1], [8.0, 2.6], [8.5, 3.5], [8.7, 4.85], [9.0, 5.1],
  [9.1, 4.0], [9.3, 4.5], [9.45, 3.8], [9.7, 4.0], [9.85, 3.3], [10.0, 3.5], [10.2, 2.7], [10.5, 2.3],
  [10.7, 2.1], [11.0, 1.8], [11.35, 1.7], [11.6, 1.3], [11.85, 1.0], [12.3, 1.0], [12.85, 0.77],
  [13.2, 0.9], [13.5, 0.77], [14.0, 0.63], [14.5, 0.5], [15.0, 0.35], [15.7, 0.15], [16.5, 0],
];
const r2SolarDay1: Pt[] = [
  [30.5, 0], [31.2, 1.0], [31.86, 2.0], [32.2, 2.5], [32.5, 2.7], [32.85, 3.5], [33.1, 3.9], [33.27, 4.06],
  [33.5, 3.6], [33.85, 2.7], [34.2, 2.2], [34.5, 2.0], [35.0, 2.1], [35.35, 1.7], [35.7, 1.0], [36.2, 0.77],
  [36.5, 0.95], [37.0, 0.6], [37.34, 0.7], [37.67, 1.3], [38.0, 0.77], [38.67, 0.6], [39.0, 1.4],
  [39.5, 1.3], [40.0, 1.0], [40.4, 0.5], [40.66, 0.25], [41.16, 0.1], [41.5, 0],
];
const r2SolarDay2: Pt[] = [
  [55.5, 0], [56, 0.8], [56.5, 1.2], [57, 0.9], [57.5, 1.1], [58, 1.0], [58.5, 1.4], [59, 1.7],
  [59.3, 2.2], [59.6, 1.8], [60, 2.0], [60.5, 1.7], [61, 1.6], [61.5, 1.4], [62, 1.2], [62.5, 1.0],
  [63, 0.9], [63.5, 0.7], [64, 0.5], [64.5, 0.2], [65.2, 0],
];
const r2SolarDay3: Pt[] = [
  [78.6, 0], [79.4, 2.0], [80.2, 3.5], [81, 5.0], [81.4, 5.5], [81.8, 5.3], [82.3, 6.0], [82.6, 6.5],
  [82.9, 6.0], [83.3, 7.0], [83.6, 6.0], [84.0, 6.6], [84.3, 6.2], [84.6, 7.5], [84.9, 6.3], [85.2, 7.0],
  [85.5, 6.0], [85.8, 6.8], [86.2, 5.5], [86.7, 5.0], [87.0, 5.2], [87.3, 4.0], [87.6, 3.3], [88.0, 2.6],
  [88.4, 1.5], [88.8, 0.5], [89.1, 0],
];
const r2SolarDay4: Pt[] = [
  [102.55, 0], [103.13, 1.0], [103.7, 2.0], [104.3, 3.0], [104.7, 3.5], [104.96, 5.0], [105.04, 6.5],
  [105.15, 5.5], [105.3, 6.0], [105.4, 5.0], [105.5, 8.0], [105.6, 6.0], [105.7, 5.0], [105.87, 7.5],
  [106.0, 9.0], [106.07, 14.0], [106.15, 8.0], [106.28, 5.0], [106.37, 10.0], [106.45, 14.0],
  [106.52, 9.0], [106.6, 14.5], [106.7, 12.0], [106.78, 15.5], [106.85, 8.0], [106.9, 4.0],
  [107.05, 6.0], [107.2, 6.5], [107.28, 6.0], [107.44, 11.5], [107.6, 4.0], [107.77, 9.0], [107.86, 13.0],
  [107.95, 10.0], [108.05, 12.0], [108.1, 13.5], [108.2, 10.0], [108.27, 9.0], [108.5, 4.0], [108.6, 6.0],
  [108.7, 8.5], [108.77, 3.5], [108.85, 6.0], [108.94, 8.5], [109.1, 4.5], [109.25, 7.0], [109.4, 9.5],
  [109.5, 5.5], [109.6, 7.0], [109.68, 9.0], [109.78, 6.0], [109.85, 5.0], [110.0, 3.5], [110.18, 2.5],
  [110.43, 3.0], [110.68, 6.0], [110.84, 4.5], [111.1, 3.0], [111.6, 2.2], [112.0, 1.7], [112.4, 1.3],
  [112.67, 0.5], [113.25, 0.1], [113.6, 0], [120, 0],
];

// ---------- series assembly ----------
const dense = (start: number, values: number[]): Pt[] =>
  values.map((v, i) => [Math.round((start + i * SAMPLE_STEP) * 100) / 100, v]);
const dips = (list: Pt[]): Pt[] =>
  list.flatMap(([t, v]): Pt[] => [[t - 0.02, 0], [t, v], [t + 0.02, 0]]);

const r1BessDay0Rows = dense(0, r1BessNight0);
const r1GridDay0Rows = dense(0, r1GridNight0);
const r2BessDay0Rows = [...dense(0, r2BessNight0), ...r2BessQuiet0, ...dense(14, r2BessEve0)];

const solar1: Pt[] = [
  ...r1SolarDay0, ...r1SolarDay1, ...r1SolarDay2, ...r1SolarDay3, ...r1SolarDay4, [120, 0],
];
const load1: Pt[] = [
  ...r1BessDay0Rows.filter(([h]) => h < 6.8), ...r1LoadDay0Own,
  ...r1BessDay0Rows.filter(([h]) => h > 17.05), [24.0, 14.3],
  ...r1Night1, ...r1LoadMorning1, ...r1Night2, ...r1LoadDay2, ...r1Night3,
  ...r1LoadDay3, ...r1Night4, ...r1LoadDay4, ...r1Night5,
];
// the busy first day is drawn with a heavier stroke, like the minute data it stands for
const bess1Rest: Pt[] = [
  r1BessDay0Rows[r1BessDay0Rows.length - 1], ...r1BessMidnight, ...r1Night1, ...r1GridMorning1,
  ...r1BessSolar1, ...r1GridRise1, ...r1Night2, ...r1GridDay2, ...r1Night3, ...r1GridDay3, ...r1Night4,
  ...r1BessDay4, ...r1Night5,
];
const grid1Rest: Pt[] = [
  r1GridDay0Rows[r1GridDay0Rows.length - 1], ...r1GridMidnight, ...r1Night1, ...r1GridMorning1,
  ...r1GridSolar1, ...r1GridRise1, ...r1Night2, ...r1GridDay2, ...r1Night3, ...r1GridDay3, ...r1Night4,
  ...r1GridDay4, ...r1Night5,
];

const solar2: Pt[] = [
  ...r2SolarDay0, ...r2SolarDay1, ...r2SolarDay2, ...r2SolarDay3, ...r2SolarDay4,
];
const load2: Pt[] = [
  [0, 0], ...dips(r2LoadDipsDay0), ...r2LoadBlockDay1, ...dips(r2LoadDipsDay1), ...dips(r2LoadDipsDay4),
  [120, 0],
];
const bess2Rest: Pt[] = [r2BessDay0Rows[r2BessDay0Rows.length - 1], ...r2BessRest];

// ---------- layout ----------
const PLOT_LEFT = 165;
const PLOT_WIDTH = 3686;
const panels = [
  { title: "Rundling 1", top: 72, height: 846, min: -10, max: 40, legendTop: 98 },
  { title: "Rundling 2", top: 1250, height: 841, min: -15, max: 25, legendTop: 1276 },
];

const tickStyle = { color: AXIS, width: 2 };

function buildOption() {
  const xAxis = panels.flatMap((p, i) => [
    {
      type: "value", gridIndex: i, min: 0, max: 120, interval: 24, position: "bottom",
      name: "time", nameLocation: "middle", nameGap: 64,
      nameTextStyle: { fontSize: 36, color: AXIS, fontFamily: FONT },
      axisLine: { show: true, onZero: false, lineStyle: tickStyle },
      axisTick: { show: true, inside: true, length: 36, lineStyle: tickStyle },
      axisLabel: {
        fontSize: 32, color: AXIS, fontFamily: FONT, margin: 18, showMinLabel: true,
        formatter: (v: number) => xTickLabels[v / 24] ?? "",
      },
      splitLine: { show: false },
    },
    {
      type: "value", gridIndex: i, min: 0, max: 120, interval: 24, position: "top",
      axisLine: { show: true, onZero: false, lineStyle: tickStyle },
      axisTick: { show: true, inside: true, length: 36, lineStyle: tickStyle },
      axisLabel: { show: false },
      splitLine: { show: false },
    },
  ]);

  const yAxis = panels.flatMap((p, i) => [
    {
      type: "value", gridIndex: i, min: p.min, max: p.max, interval: 5, position: "left",
      name: "Power(W)", nameLocation: "middle", nameGap: 88,
      nameTextStyle: { fontSize: 36, color: AXIS, fontFamily: FONT },
      axisLine: { show: true, onZero: false, lineStyle: tickStyle },
      axisTick: { show: true, inside: true, length: 36, lineStyle: tickStyle },
      axisLabel: {
        fontSize: 32, color: AXIS, fontFamily: FONT, margin: 14,
        formatter: (v: number) => String(Math.round(v * 10) / 100),
      },
      splitLine: { show: false },
    },
    {
      type: "value", gridIndex: i, min: p.min, max: p.max, interval: 5, position: "right",
      axisLine: { show: true, onZero: false, lineStyle: tickStyle },
      axisTick: { show: true, inside: true, length: 36, lineStyle: tickStyle },
      axisLabel: { show: false },
      splitLine: { show: false },
    },
  ]);

  const line = (name: string, color: string, data: Pt[], panel: number, width = 3) => ({
    name, type: "line", data,
    xAxisIndex: panel * 2, yAxisIndex: panel * 2,
    showSymbol: false, symbol: "none",
    lineStyle: { width, color },
    itemStyle: { color },
    emphasis: { disabled: true },
  });

  const legendBase = {
    orient: "vertical", right: 87, icon: "rect", itemWidth: 98, itemHeight: 3, itemGap: 11,
    padding: [10, 12, 8, 11], backgroundColor: "#ffffff", borderColor: AXIS, borderWidth: 2,
    textStyle: { fontSize: 29, lineHeight: 30, color: "#000", fontFamily: FONT, padding: [0, 0, 0, 4] },
    selectedMode: false,
  };

  const graphic = panels.flatMap((p) => [
    {
      type: "text", x: PLOT_LEFT + PLOT_WIDTH / 2, y: p.top - 32,
      style: { text: p.title, fontSize: 36, fontWeight: "bold", fontFamily: FONT, fill: "#000", align: "center", verticalAlign: "middle" },
    },
    {
      type: "text", x: PLOT_LEFT + 4, y: p.top - 7,
      style: { text: "× 10", fontSize: 28, fontFamily: FONT, fill: AXIS, align: "left", verticalAlign: "bottom" },
    },
    {
      type: "text", x: PLOT_LEFT + 62, y: p.top - 21,
      style: { text: "4", fontSize: 21, fontFamily: FONT, fill: AXIS, align: "left", verticalAlign: "bottom" },
    },
  ]);

  return {
    animation: false,
    backgroundColor: "#f0f0f0",
    textStyle: { fontFamily: FONT },
    grid: panels.map((p) => ({
      left: PLOT_LEFT, top: p.top, width: PLOT_WIDTH, height: p.height,
      show: true, backgroundColor: "#ffffff", borderColor: AXIS, borderWidth: 2,
    })),
    xAxis,
    yAxis,
    legend: [
      { ...legendBase, top: panels[0].legendTop, data: ["Solar", "Load", "BESS", "Grid"] },
      { ...legendBase, top: panels[1].legendTop, data: ["Solar", "Load", "BESS"] },
    ],
    graphic,
    series: [
      line("Solar", COLORS.solar, solar1, 0),
      line("Load", COLORS.load, load1, 0),
      line("BESS", COLORS.bess, r1BessDay0Rows, 0, 4.2),
      line("BESS", COLORS.bess, bess1Rest, 0),
      line("Grid", COLORS.grid, r1GridDay0Rows, 0, 4.2),
      line("Grid", COLORS.grid, grid1Rest, 0),
      line("Load", COLORS.load, load2, 1),
      line("Solar", COLORS.solar, solar2, 1),
      line("BESS", COLORS.bess, r2BessDay0Rows, 1, 4.2),
      line("BESS", COLORS.bess, bess2Rest, 1),
    ],
  };
}

export default function App() {
  const chartRef = useRef<HTMLDivElement>(null);

  useEffect(() => {
    if (!chartRef.current) return;
    const chart = echarts.init(chartRef.current, undefined, { renderer: "svg" });
    chart.setOption(buildOption() as echarts.EChartsOption);
    return () => chart.dispose();
  }, []);

  return (
    <div
      ref={chartRef}
      style={{ position: "fixed", left: 0, top: 0, width: "3913px", height: "2219px", background: "#f0f0f0" }}
    />
  );
}
